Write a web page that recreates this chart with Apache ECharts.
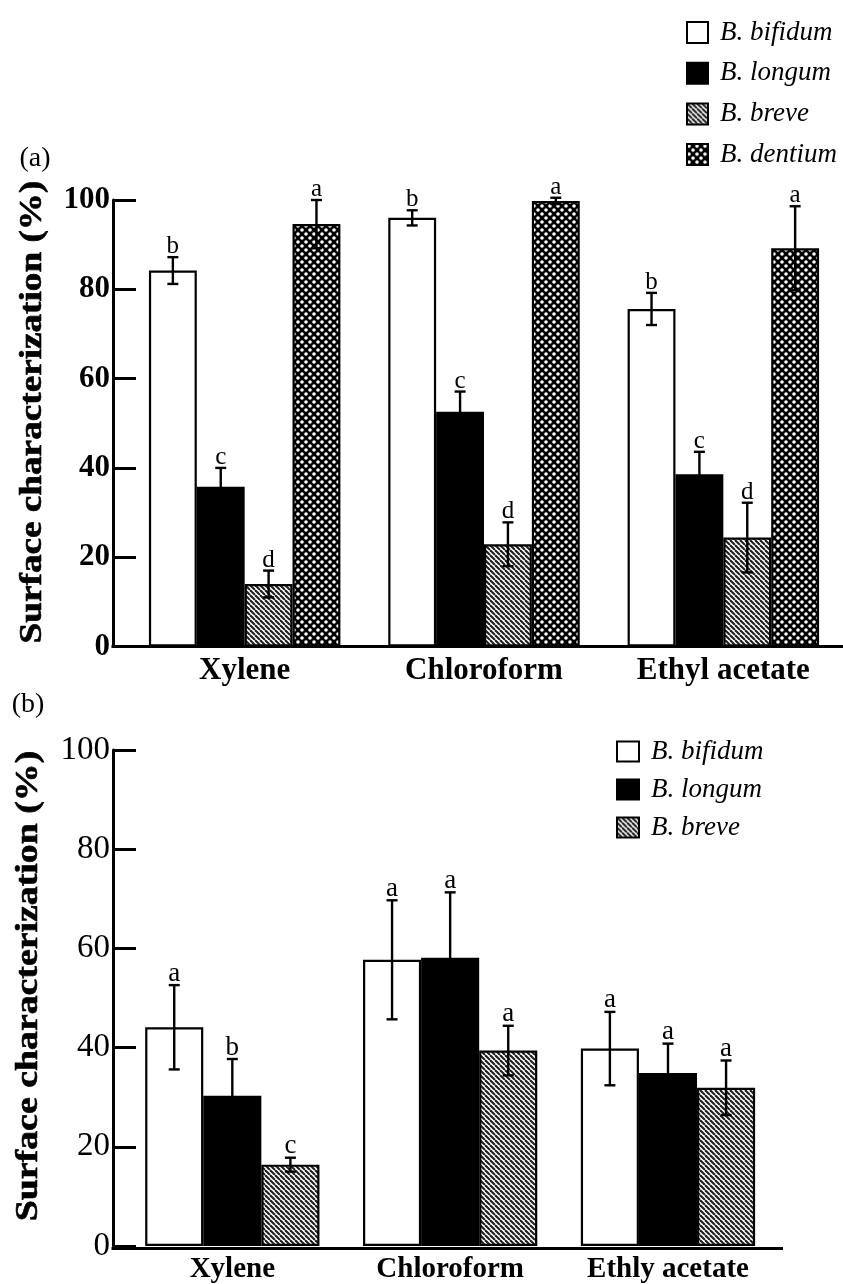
<!DOCTYPE html>
<html>
<head>
<meta charset="utf-8">
<script src="https://cdn.jsdelivr.net/npm/echarts@6/dist/echarts.min.js"></script>
<style>
  html, body { margin: 0; padding: 0; background: #fff; }
  #chart { width: 843px; height: 1284px; }
</style>
</head>
<body>
<div id="chart"></div>
<script>
// ---------------- DATA ----------------
const categoriesA = ['Xylene', 'Chloroform', 'Ethyl acetate'];
const categoriesB = ['Xylene', 'Chloroform', 'Ethly acetate'];
const strainsA = ['B. bifidum', 'B. longum', 'B. breve', 'B. dentium'];
const strainsB = ['B. bifidum', 'B. longum', 'B. breve'];
const yTickLabels = ['0', '20', '40', '60', '80', '100'];

// Panel (a)
const aBifidum = [84.2, 96.0, 75.6];
const aBifidumErr = [3.0, 1.7, 3.6];
const aBifidumSig = ['b', 'b', 'b'];
const aLongum = [35.8, 52.6, 38.6];
const aLongumErr = [4.2, 4.5, 5.0];
const aLongumSig = ['c', 'c', 'c'];
const aBreve = [14.0, 22.9, 24.4];
const aBreveErr = [3.0, 4.9, 7.8];
const aBreveSig = ['d', 'd', 'd'];
const aDentium = [94.6, 99.8, 89.2];
const aDentiumErr = [5.4, 0.7, 9.4];
const aDentiumSig = ['a', 'a', 'a'];

// Panel (b)
const bBifidum = [44.1, 57.7, 39.8];
const bBifidumErr = [8.5, 12.0, 7.4];
const bBifidumSig = ['a', 'a', 'a'];
const bLongum = [30.3, 58.1, 34.9];
const bLongumErr = [7.4, 13.2, 5.9];
const bLongumSig = ['b', 'a', 'a'];
const bBreve = [16.4, 39.4, 31.9];
const bBreveErr = [1.4, 5.0, 5.5];
const bBreveSig = ['c', 'a', 'a'];

// ---------------- STYLE ----------------
const FONT = '"Liberation Serif", "Times New Roman", serif';

function hatchPattern() {
  const c = document.createElement('canvas');
  const n = 5;
  c.width = n; c.height = n;
  const ctx = c.getContext('2d');
  ctx.fillStyle = '#fff';
  ctx.fillRect(0, 0, n, n);
  ctx.strokeStyle = '#222';
  ctx.lineWidth = 2.1;
  for (const x0 of [-n, 0, n]) {
    ctx.beginPath();
    ctx.moveTo(x0, 0);
    ctx.lineTo(x0 + n, n);
    ctx.stroke();
  }
  return c;
}
function dotPattern() {
  const c = document.createElement('canvas');
  const n = 8;
  c.width = n; c.height = n;
  const ctx = c.getContext('2d');
  ctx.fillStyle = '#000';
  ctx.fillRect(0, 0, n, n);
  ctx.fillStyle = '#fff';
  for (const [x, y] of [[2, 2], [6, 6]]) {
    ctx.beginPath();
    ctx.arc(x, y, 1.8, 0, Math.PI * 2);
    ctx.fill();
  }
  return c;
}
const hatch = hatchPattern();
const dots = dotPattern();

const styles = {
  'B. bifidum': { color: '#fff', borderColor: '#000', borderWidth: 2.2 },
  'B. longum': { color: '#000', borderColor: '#000', borderWidth: 2.2 },
  'B. breve': { color: { image: hatch, repeat: 'repeat' }, borderColor: '#000', borderWidth: 2.2 },
  'B. dentium': { color: { image: dots, repeat: 'repeat' }, borderColor: '#000', borderWidth: 2.2 }
};

// layout
const GA = { left: 125, top: 200, width: 718, height: 446.5 };
const GB = { left: 123.4, top: 750, width: 653.5, height: 498.5 };
const AXIS_X = 113;

function errSeries(gridIdx, n, items, fontSize) {
  return {
    type: 'custom',
    xAxisIndex: gridIdx,
    yAxisIndex: gridIdx,
    z: 5,
    silent: true,
    data: items.map(d => [d[0], d[1], d[2], d[3]]),
    renderItem: function (params, api) {
      const cat = api.value(0), si = api.value(1), v = api.value(2), e = api.value(3);
      const sig = items[params.dataIndex][4];
      const band = api.size([1, 0])[0];
      const bw = band * 0.8 / n;
      const xOff = (si - (n - 1) / 2) * bw;
      const pt = api.coord([cat, v + e]);
      const pb = api.coord([cat, v - e]);
      const x = pt[0] + xOff;
      const cap = 5.5;
      const ls = { stroke: '#000', lineWidth: 2.4 };
      return {
        type: 'group',
        children: [
          { type: 'line', shape: { x1: x, y1: pt[1], x2: x, y2: pb[1] }, style: ls },
          { type: 'line', shape: { x1: x - cap, y1: pt[1], x2: x + cap, y2: pt[1] }, style: ls },
          { type: 'line', shape: { x1: x - cap, y1: pb[1], x2: x + cap, y2: pb[1] }, style: ls },
          { type: 'text', x: x, y: pt[1] + 2, style: { text: sig, font: fontSize + 'px ' + FONT, fill: '#000', align: 'center', verticalAlign: 'bottom' } }
        ]
      };
    }
  };
}

function buildItems(valsList, errList, sigList) {
  const out = [];
  valsList.forEach((vals, si) => {
    vals.forEach((v, ci) => out.push([ci, si, v, errList[si][ci], sigList[si][ci]]));
  });
  return out;
}

const seriesA = [aBifidum, aLongum, aBreve, aDentium];
const seriesB = [bBifidum, bLongum, bBreve];

const series = [];
strainsA.forEach((name, i) => series.push({
  name: name, type: 'bar', xAxisIndex: 0, yAxisIndex: 0, data: seriesA[i],
  barGap: '0%', barCategoryGap: '20%', itemStyle: styles[name], z: 2
}));
strainsB.forEach((name, i) => series.push({
  name: name, type: 'bar', xAxisIndex: 1, yAxisIndex: 1, data: seriesB[i],
  barGap: '0%', barCategoryGap: '20%', itemStyle: styles[name], z: 2
}));
series.push(errSeries(0, 4, buildItems(seriesA, [aBifidumErr, aLongumErr, aBreveErr, aDentiumErr], [aBifidumSig, aLongumSig, aBreveSig, aDentiumSig]), 25));
series.push(errSeries(1, 3, buildItems(seriesB, [bBifidumErr, bLongumErr, bBreveErr], [bBifidumSig, bLongumSig, bBreveSig]), 27));

function yAxis(gridIdx, offset, labelStyle) {
  return {
    type: 'value', gridIndex: gridIdx, min: 0, max: 100, interval: 20, offset: offset,
    splitLine: { show: false },
    axisLine: { show: true, lineStyle: { color: '#000', width: 3 } },
    axisTick: { show: true, inside: true, length: 23, lineStyle: { color: '#000', width: 3 } },
    axisLabel: Object.assign({ color: '#000', fontFamily: FONT, margin: 3,
      formatter: v => yTickLabels[Math.round(v / 20)] }, labelStyle)
  };
}
function xAxis(gridIdx, cats, fontSize, margin) {
  return {
    type: 'category', gridIndex: gridIdx, data: cats,
    axisLine: { show: false }, axisTick: { show: false },
    axisLabel: { color: '#000', fontFamily: FONT, fontWeight: 'bold', fontSize: fontSize, margin: margin }
  };
}

const legendText = { fontFamily: FONT, fontStyle: 'italic', fontSize: 27, color: '#000', padding: [0, 0, 0, 7] };

const option = {
  animation: false,
  backgroundColor: '#fff',
  textStyle: { fontFamily: FONT },
  grid: [
    Object.assign({ containLabel: false }, GA),
    Object.assign({ containLabel: false }, GB)
  ],
  xAxis: [xAxis(0, categoriesA, 31, 9), xAxis(1, categoriesB, 29, 9)],
  yAxis: [
    yAxis(0, GA.left - AXIS_X, { fontSize: 31, fontWeight: 'bold' }),
    yAxis(1, GB.left - AXIS_X, { fontSize: 33, fontWeight: 'normal' })
  ],
  legend: [
    { data: strainsA, orient: 'vertical', left: 686, top: 19, itemWidth: 21, itemHeight: 21, itemGap: 13.7,
      icon: 'rect', selectedMode: false, textStyle: legendText, padding: 0 },
    { data: strainsB, orient: 'vertical', left: 616, top: 738, itemWidth: 22, itemHeight: 20, itemGap: 11,
      icon: 'rect', selectedMode: false, textStyle: legendText, padding: 0 }
  ],
  series: series,
  graphic: [
    { type: 'line', shape: { x1: AXIS_X - 1.5, y1: GA.top + GA.height, x2: 843, y2: GA.top + GA.height }, style: { stroke: '#000', lineWidth: 3 }, z: 10 },
    { type: 'line', shape: { x1: AXIS_X - 1.5, y1: GB.top + GB.height, x2: 783, y2: GB.top + GB.height }, style: { stroke: '#000', lineWidth: 3 }, z: 10 },
    { type: 'text', x: 33, y: 412, rotation: Math.PI / 2, scaleX: 1.2, style: { text: 'Surface characterization (%)', font: 'bold 31px ' + FONT, fill: '#000', align: 'center', verticalAlign: 'middle', stroke: '#000', lineWidth: 0.6 } },
    { type: 'text', x: 29, y: 986, rotation: Math.PI / 2, scaleX: 1.22, style: { text: 'Surface characterization (%)', font: 'bold 31px ' + FONT, fill: '#000', align: 'center', verticalAlign: 'middle', stroke: '#000', lineWidth: 0.6 } },
    { type: 'text', x: 35, y: 159, style: { text: '(a)', font: '28px ' + FONT, fill: '#000', align: 'center', verticalAlign: 'middle' } },
    { type: 'text', x: 28, y: 705, style: { text: '(b)', font: '28px ' + FONT, fill: '#000', align: 'center', verticalAlign: 'middle' } }
  ]
};

const chart = echarts.init(document.getElementById('chart'), null, { renderer: 'canvas' });
chart.setOption(option);
</script>
</body>
</html>
